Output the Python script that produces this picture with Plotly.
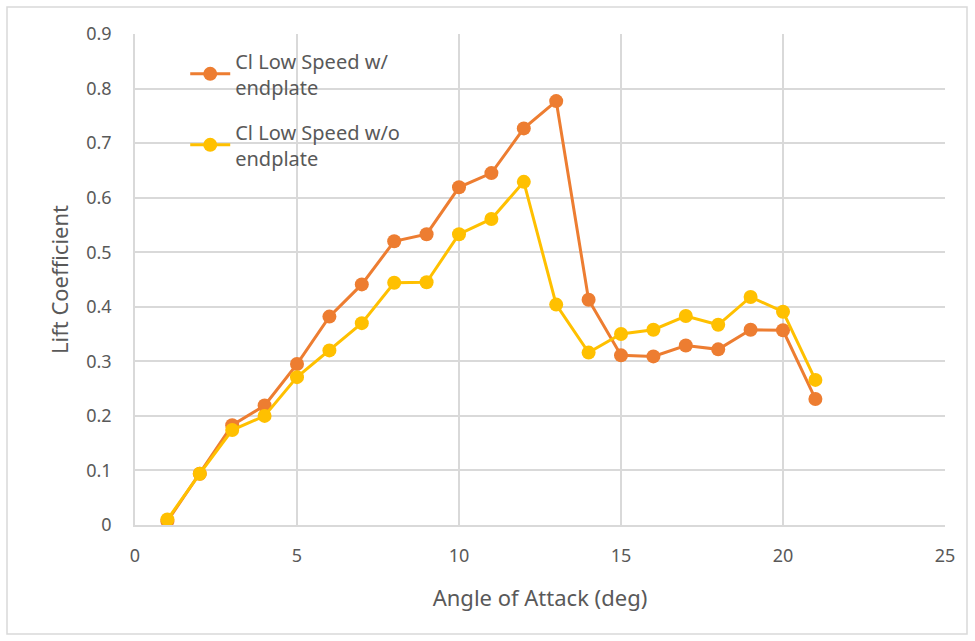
import plotly.graph_objects as go

aoa = list(range(1, 22))
cl_with = [0.007, 0.094, 0.183, 0.219, 0.295, 0.382, 0.441, 0.520, 0.533, 0.619, 0.645,
           0.727, 0.777, 0.413, 0.311, 0.309, 0.329, 0.322, 0.358, 0.357, 0.231]
cl_without = [0.010, 0.094, 0.174, 0.200, 0.271, 0.320, 0.370, 0.444, 0.445, 0.533, 0.561,
              0.629, 0.404, 0.316, 0.350, 0.358, 0.383, 0.367, 0.418, 0.391, 0.266]
names = ["Cl Low Speed w/<br>endplate", "Cl Low Speed w/o<br>endplate"]
colors = ["#ED7D31", "#FFC000"]

FONT = "Noto Sans"
TXT = "#595959"

fig = go.Figure()
for i, (ys, nm, c) in enumerate([(cl_with, names[0], colors[0]), (cl_without, names[1], colors[1])]):
    fig.add_trace(go.Scatter(
        x=aoa, y=ys, name=nm, mode="lines+markers", legendgroup=f"g{i}",
        line=dict(color=c, width=3), marker=dict(color=c, size=14),
    ))

fig.update_layout(
    width=975, height=641,
    paper_bgcolor="white", plot_bgcolor="white",
    margin=dict(l=135, r=30, t=34, b=116),
    font=dict(family=FONT, color=TXT, size=18),
    showlegend=True,
    legend=dict(x=0.062, y=0.985, xanchor="left", yanchor="top",
                bgcolor="rgba(0,0,0,0)", font=dict(size=20, color=TXT),
                tracegroupgap=16, itemwidth=40),
    xaxis=dict(range=[0, 25], dtick=5, showgrid=True, gridcolor="#d9d9d9", gridwidth=1.5,
               zeroline=False, showline=True, linecolor="#d9d9d9", linewidth=1.5,
               ticks="", ticklabelstandoff=14,
               title=dict(text="Angle of Attack (deg)", font=dict(size=22, color=TXT), standoff=24)),
    yaxis=dict(range=[0, 0.9], dtick=0.1, showgrid=True, gridcolor="#d9d9d9", gridwidth=1.5,
               zeroline=False, showline=True, linecolor="#d9d9d9", linewidth=1.5,
               ticks="", ticklabelstandoff=18, tickformat="~g",
               title=dict(text="Lift Coefficient", font=dict(size=22, color=TXT), standoff=12)),
    shapes=[dict(type="rect", xref="paper", yref="paper",
                 x0=-128/810, x1=1 + 22/810, y0=-109/491, y1=1 + 27/491,
                 line=dict(color="#d9d9d9", width=1.5), fillcolor="rgba(0,0,0,0)", layer="below")],
)

fig.write_html("out.html")
